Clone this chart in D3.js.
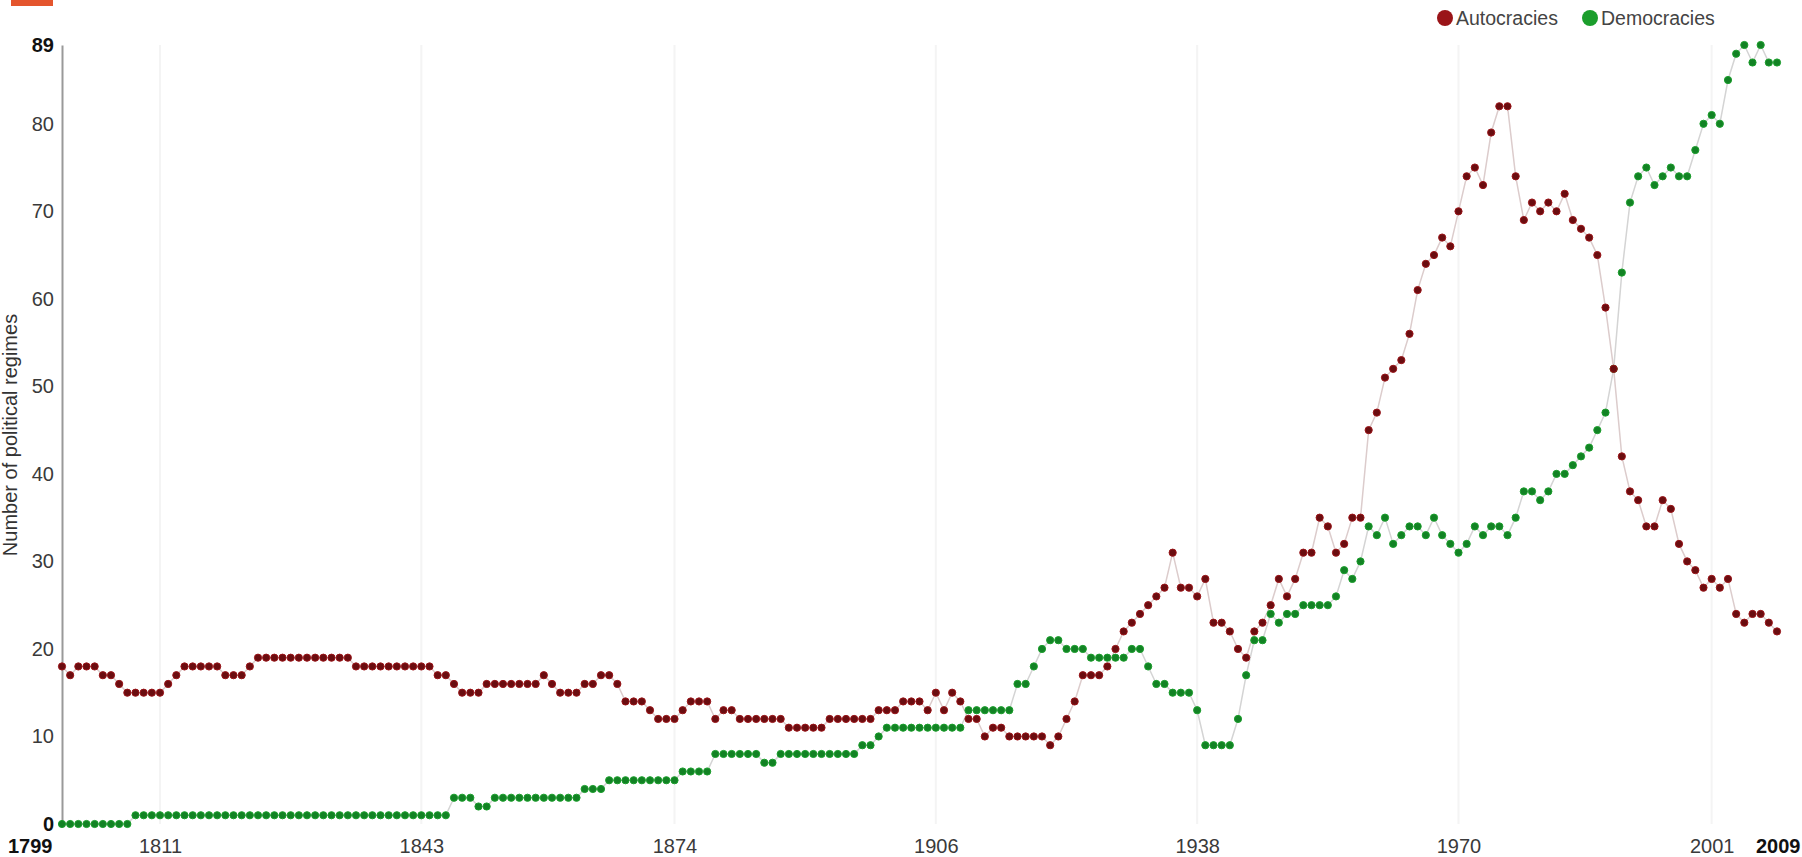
<!DOCTYPE html>
<html>
<head>
<meta charset="utf-8">
<script src="https://cdn.jsdelivr.net/npm/d3@7/dist/d3.min.js"></script>
<style>
body { margin:0; background:#fff; overflow:hidden; }
svg { display:block; font-family:"Liberation Sans", Arial, sans-serif; }
</style>
</head>
<body>
<svg id="chart"></svg>
<script>
// one value per year, 1799 .. 2009
var firstYear = 1799;
var lastYear = 2009;

var autocracies = [
 18,17,18,18,18,17,17,16,15,15,
 15,15,15,16,17,18,18,18,18,18,
 17,17,17,18,19,19,19,19,19,19,
 19,19,19,19,19,19,18,18,18,18,
 18,18,18,18,18,18,17,17,16,15,
 15,15,16,16,16,16,16,16,16,17,
 16,15,15,15,16,16,17,17,16,14,
 14,14,13,12,12,12,13,14,14,14,
 12,13,13,12,12,12,12,12,12,11,
 11,11,11,11,12,12,12,12,12,12,
 13,13,13,14,14,14,13,15,13,15,
 14,12,12,10,11,11,10,10,10,10,
 10,9,10,12,14,17,17,17,18,20,
 22,23,24,25,26,27,31,27,27,26,
 28,23,23,22,20,19,22,23,25,28,
 26,28,31,31,35,34,31,32,35,35,
 45,47,51,52,53,56,61,64,65,67,
 66,70,74,75,73,79,82,82,74,69,
 71,70,71,70,72,69,68,67,65,59,
 52,42,38,37,34,34,37,36,32,30,
 29,27,28,27,28,24,23,24,24,23,22
];

var democracies = [
 0,0,0,0,0,0,0,0,0,1,
 1,1,1,1,1,1,1,1,1,1,
 1,1,1,1,1,1,1,1,1,1,
 1,1,1,1,1,1,1,1,1,1,
 1,1,1,1,1,1,1,1,3,3,
 3,2,2,3,3,3,3,3,3,3,
 3,3,3,3,4,4,4,5,5,5,
 5,5,5,5,5,5,6,6,6,6,
 8,8,8,8,8,8,7,7,8,8,
 8,8,8,8,8,8,8,8,9,9,
 10,11,11,11,11,11,11,11,11,11,
 11,13,13,13,13,13,13,16,16,18,
 20,21,21,20,20,20,19,19,19,19,
 19,20,20,18,16,16,15,15,15,13,
 9,9,9,9,12,17,21,21,24,23,
 24,24,25,25,25,25,26,29,28,30,
 34,33,35,32,33,34,34,33,35,33,
 32,31,32,34,33,34,34,33,35,38,
 38,37,38,40,40,41,42,43,45,47,
 52,63,71,74,75,73,74,75,74,74,
 77,80,81,80,85,88,89,87,89,87,87
];

var yTicks = [0,10,20,30,40,50,60,70,80,89];
var xTicks = [1811,1843,1874,1906,1938,1970,2001];
var seriesNames = ["Autocracies","Democracies"];

var autoColor = "#9a1418";
var demoColor = "#1b9e2c";

var years = d3.range(firstYear, lastYear+1);

var screen = {width:1802, height:857};

var svg = d3.select("#chart")
    .attr("width", screen.width)
    .attr("height", screen.height);

var xScale = d3.scaleLinear()
    .domain([firstYear, lastYear])
    .range([62, 1777]);

var yScale = d3.scaleLinear()
    .domain([0, 89])
    .range([824, 45]);

// little orange tab top left
svg.append("rect")
    .attr("x", 11).attr("y", 0)
    .attr("width", 42).attr("height", 6)
    .attr("fill", "#e4552d");

// vertical grid lines
svg.append("g")
    .selectAll("line")
    .data(xTicks)
    .enter()
    .append("line")
    .attr("x1", function(d){ return xScale(d); })
    .attr("x2", function(d){ return xScale(d); })
    .attr("y1", yScale(89))
    .attr("y2", yScale(0))
    .attr("stroke", "#f4f4f4")
    .attr("stroke-width", 2);

// y axis
var yAxis = d3.axisLeft(yScale)
    .tickValues(yTicks)
    .tickSize(0)
    .tickPadding(8);

var yG = svg.append("g")
    .attr("transform", "translate(62,0)")
    .call(yAxis);

yG.select(".domain")
    .attr("stroke", "#999")
    .attr("stroke-width", 2);

yG.selectAll("text")
    .attr("font-size", 20)
    .attr("font-family", "Liberation Sans, Arial, sans-serif")
    .attr("fill", function(d){ return (d==0 || d==89) ? "#111" : "#3a3a3a"; })
    .attr("font-weight", function(d){ return (d==0 || d==89) ? "bold" : "normal"; });

// x axis labels
var xAxis = d3.axisBottom(xScale)
    .tickValues([firstYear].concat(xTicks).concat([lastYear]))
    .tickFormat(d3.format("d"))
    .tickSize(0)
    .tickPadding(0);

var xG = svg.append("g")
    .attr("transform", "translate(0,839)")
    .call(xAxis);

xG.select(".domain").remove();

xG.selectAll("text")
    .attr("font-size", 20)
    .attr("font-family", "Liberation Sans, Arial, sans-serif")
    .attr("fill", function(d){ return (d==firstYear || d==lastYear) ? "#111" : "#3a3a3a"; })
    .attr("font-weight", function(d){ return (d==firstYear || d==lastYear) ? "bold" : "normal"; })
    .attr("text-anchor", function(d){
        if (d==firstYear) return "end";
        if (d==lastYear) return "end";
        return "middle";
    })
    .attr("x", function(d){
        if (d==firstYear) return -10;
        if (d==lastYear) return 23;
        return 0;
    });

// y axis title
svg.append("text")
    .text("Number of political regimes")
    .attr("text-anchor", "middle")
    .attr("transform", "translate(17,435) rotate(-90)")
    .attr("font-size", 20)
    .attr("fill", "#333");

// connecting lines
var lineGenerator = d3.line()
    .x(function(d,i){ return xScale(years[i]); })
    .y(function(d){ return yScale(d); });

svg.append("path")
    .datum(democracies)
    .attr("d", lineGenerator)
    .attr("fill", "none")
    .attr("stroke", "#d4d4d4")
    .attr("stroke-width", 1.5);

svg.append("path")
    .datum(autocracies)
    .attr("d", lineGenerator)
    .attr("fill", "none")
    .attr("stroke", "#dccccc")
    .attr("stroke-width", 1.5);

var drawPoints = function(values, fill, rim)
{
    svg.append("g")
        .selectAll("circle")
        .data(values)
        .enter()
        .append("circle")
        .attr("cx", function(d,i){ return xScale(years[i]); })
        .attr("cy", function(d){ return yScale(d); })
        .attr("r", 3.6)
        .attr("fill", fill)
        .attr("stroke", rim)
        .attr("stroke-width", 1);
}

drawPoints(democracies, "#128224", demoColor);
drawPoints(autocracies, "#6a0d10", autoColor);

// legend
var legend = svg.append("g")
    .selectAll("g")
    .data(seriesNames)
    .enter()
    .append("g")
    .attr("transform", function(d,i){ return "translate(" + (i==0 ? 1445 : 1590) + ",18)"; });

legend.append("circle")
    .attr("r", 8)
    .attr("fill", function(d,i){ return i==0 ? autoColor : demoColor; });

legend.append("text")
    .text(function(d){ return d; })
    .attr("x", 11)
    .attr("dy", "0.35em")
    .attr("font-size", 19.5)
    .attr("fill", "#444");
</script>
</body>
</html>
